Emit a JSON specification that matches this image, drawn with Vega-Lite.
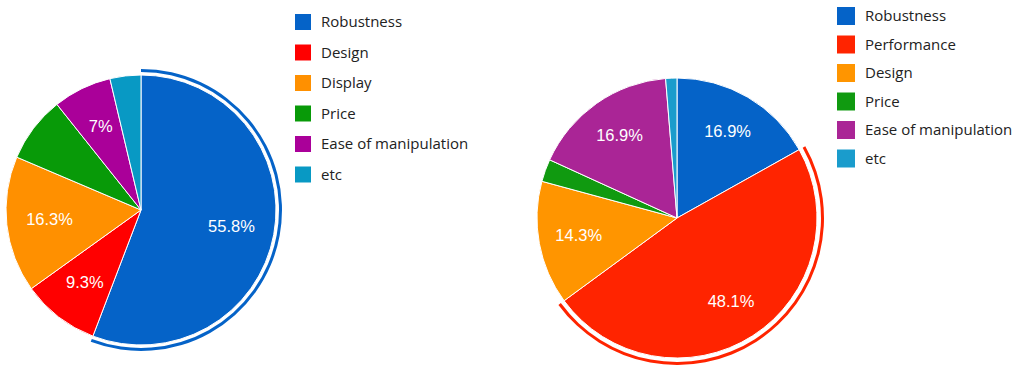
{
  "$schema": "https://vega.github.io/schema/vega-lite/v6.json",
  "padding": {"left": 0, "top": 7, "right": 0, "bottom": 0},
  "background": "white",
  "config": {
    "view": {"stroke": null},
    "legend": {"title": null, "symbolType": "square", "labelFont": "Open Sans", "labelFontSize": 15, "labelColor": "#222222", "labelOffset": 10, "padding": 0, "symbolStrokeWidth": 0, "symbolOpacity": 1}
  },
  "spacing": 257,
  "bounds": "flush",
  "resolve": {"scale": {"color": "independent", "theta": "independent"}, "legend": {"color": "independent"}},
  "hconcat": [
    {
      "width": 278,
      "height": 340,
      "data": {"values": [
        {"category": "Robustness", "value": 55.8, "rank": 1, "label": "55.8%"},
        {"category": "Design", "value": 9.3, "rank": 2, "label": "9.3%"},
        {"category": "Display", "value": 16.3, "rank": 3, "label": "16.3%"},
        {"category": "Price", "value": 7.9, "rank": 4, "label": ""},
        {"category": "Ease of manipulation", "value": 7.0, "rank": 5, "label": "7%"},
        {"category": "etc", "value": 3.7, "rank": 6, "label": ""}
      ]},
      "encoding": {
        "theta": {"field": "value", "type": "quantitative", "stack": true},
        "order": {"field": "rank", "type": "quantitative"},
        "color": {
          "field": "category", "type": "nominal",
          "scale": {"domain": ["Robustness", "Design", "Display", "Price", "Ease of manipulation", "etc"], "range": ["#0563c8", "#ff0000", "#ff9000", "#089a08", "#aa0099", "#0899c4"]},
          "legend": {"orient": "none", "legendX": 293, "legendY": -26, "symbolSize": 256, "rowPadding": 14.5}
        }
      },
      "layer": [
        {"mark": {"type": "arc", "radius": 135, "stroke": "white", "strokeWidth": 1}},
        {"mark": {"type": "arc", "radius": 141, "radius2": 138},
         "encoding": {"fillOpacity": {"condition": {"test": "datum.category === 'Robustness'", "value": 1}, "value": 0}}},
        {"mark": {"type": "text", "radius": 92, "fontSize": 16.5, "font": "Liberation Sans", "fill": "white"},
         "encoding": {"text": {"field": "label"}}}
      ]
    },
    {
      "width": 280,
      "height": 356,
      "data": {"values": [
        {"category": "Robustness", "value": 16.9, "rank": 1, "label": "16.9%"},
        {"category": "Performance", "value": 48.1, "rank": 2, "label": "48.1%"},
        {"category": "Design", "value": 14.3, "rank": 3, "label": "14.3%"},
        {"category": "Price", "value": 2.6, "rank": 4, "label": ""},
        {"category": "Ease of manipulation", "value": 16.9, "rank": 5, "label": "16.9%"},
        {"category": "etc", "value": 1.3, "rank": 6, "label": ""}
      ]},
      "encoding": {
        "theta": {"field": "value", "type": "quantitative", "stack": true},
        "order": {"field": "rank", "type": "quantitative"},
        "color": {
          "field": "category", "type": "nominal",
          "scale": {"domain": ["Robustness", "Performance", "Design", "Price", "Ease of manipulation", "etc"], "range": ["#0563c8", "#ff2400", "#ff9500", "#109a10", "#aa2596", "#1a9ccc"]},
          "legend": {"orient": "none", "legendX": 300, "legendY": -33, "symbolSize": 324, "rowPadding": 10.5}
        }
      },
      "layer": [
        {"mark": {"type": "arc", "radius": 140, "stroke": "white", "strokeWidth": 1}},
        {"mark": {"type": "arc", "radius": 147, "radius2": 144},
         "encoding": {"fillOpacity": {"condition": {"test": "datum.category === 'Performance'", "value": 1}, "value": 0}}},
        {"mark": {"type": "text", "radius": 100, "fontSize": 16.5, "font": "Liberation Sans", "fill": "white"},
         "encoding": {"text": {"field": "label"}}}
      ]
    }
  ]
}
